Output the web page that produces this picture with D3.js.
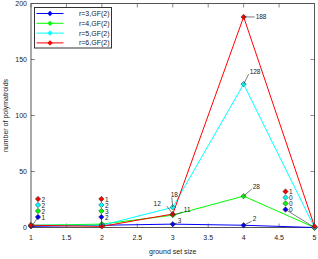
<!DOCTYPE html>
<html>
<head>
<meta charset="utf-8">
<script src="https://cdn.jsdelivr.net/npm/d3@7"></script>
<style>
  body { margin: 0; background: #fff; }
  text { font-family: "Liberation Sans", Arial, sans-serif; }
</style>
</head>
<body>
<div id="chart"></div>
<script>
// data
var sizes = [1, 2, 3, 4, 5];
var seriesNames = ["r=3,GF(2)", "r=4,GF(2)", "r=5,GF(2)", "r=6,GF(2)"];
var seriesColors = ["#0000ff", "#00ff00", "#00ffff", "#ff0000"];
var r3 = [1, 2, 3, 2, 0];
var r4 = [2, 3, 11, 28, 0];
var r5 = [2, 2, 18, 128, 0];
var r6 = [2, 1, 12, 188, 1];
var xTicks = [1, 1.5, 2, 2.5, 3, 3.5, 4, 4.5, 5];
var yTicks = [0, 50, 100, 150, 200];

var width = 318, height = 259;
var margin = ({top: 3.5, right: 3.5, bottom: 31.5, left: 31});

var series = [r3, r4, r5, r6].map((vals, i) => ({
  name: seriesNames[i],
  color: seriesColors[i],
  values: vals.map((v, j) => ({x: sizes[j], y: v}))
}));

var svg = d3.select("#chart")
  .append("svg")
  .attr("width", width)
  .attr("height", height);

var x = d3.scaleLinear()
  .domain([1, 5])
  .range([margin.left, width - margin.right]);
var y = d3.scaleLinear()
  .domain([0, 200])
  .range([height - margin.bottom, margin.top]);

var tickColor = "#888";
var fs = 7;

// ticks on all four sides, pointing inward
var gx = svg.append("g");
xTicks.forEach(t => {
  gx.append("line").attr("x1", x(t)).attr("x2", x(t))
    .attr("y1", y(0)).attr("y2", y(0) - 4).attr("stroke", tickColor);
  gx.append("line").attr("x1", x(t)).attr("x2", x(t))
    .attr("y1", y(200)).attr("y2", y(200) + 4).attr("stroke", tickColor);
  gx.append("text").attr("x", x(t)).attr("y", y(0) + 12)
    .attr("text-anchor", "middle").attr("font-size", fs).attr("fill", "#222")
    .text(t);
});
var gy = svg.append("g");
yTicks.forEach(t => {
  gy.append("line").attr("x1", x(1)).attr("x2", x(1) + 4)
    .attr("y1", y(t)).attr("y2", y(t)).attr("stroke", tickColor);
  gy.append("line").attr("x1", x(5)).attr("x2", x(5) - 4)
    .attr("y1", y(t)).attr("y2", y(t)).attr("stroke", tickColor);
  gy.append("text").attr("x", x(1) - 4).attr("y", y(t) + 2.5)
    .attr("text-anchor", "end").attr("font-size", fs).attr("fill", "#222")
    .text(t);
});

// frame
svg.append("rect")
  .attr("x", x(1)).attr("y", y(200))
  .attr("width", x(5) - x(1)).attr("height", y(0) - y(200))
  .attr("fill", "none").attr("stroke", "#555").attr("stroke-width", 1);

// axis titles
svg.append("text")
  .attr("x", (x(1) + x(5)) / 2).attr("y", height - 5)
  .attr("text-anchor", "middle").attr("font-size", fs).attr("fill", "#222")
  .text("ground set size");
svg.append("text")
  .attr("transform", `translate(8,${(y(0) + y(200)) / 2}) rotate(-90)`)
  .attr("text-anchor", "middle").attr("font-size", fs).attr("fill", "#222")
  .text("number of polymatroids");

var line = d3.line().x(d => x(d.x)).y(d => y(d.y));
var diamond = d3.symbol().type(d3.symbolDiamond2).size(18);

var plot = svg.append("g");
series.forEach(s => {
  plot.append("path")
    .datum(s.values)
    .attr("fill", "none")
    .attr("stroke", s.color)
    .attr("stroke-width", 1)
    .attr("d", line);
});
series.forEach(s => {
  plot.selectAll(null)
    .data(s.values)
    .join("path")
      .attr("transform", d => `translate(${x(d.x)},${y(d.y)})`)
      .attr("d", diamond)
      .attr("fill", s.color)
      .attr("stroke", "#222")
      .attr("stroke-width", 0.5);
});

// single value labels: [series index, point index, dx, dy of text]
var labels = [
  [3, 3, 12, 0],
  [2, 3, 6, -12],
  [1, 3, 9, -9],
  [0, 3, 9, -6],
  [2, 2, -2, -12],
  [3, 2, -12, -10],
  [1, 2, 11, -5],
  [0, 2, 5, -3]
];
var ann = svg.append("g");
labels.forEach(([si, pi, dx, dy]) => {
  var d = series[si].values[pi];
  var px = x(d.x), py = y(d.y);
  var tx = px + dx, ty = py + dy;
  ann.append("line")
    .attr("x1", px).attr("y1", py)
    .attr("x2", tx + (dx > 0 ? -1 : dx < -5 ? 6 : 1)).attr("y2", ty + (dy < 0 ? 2 : 0))
    .attr("stroke", "#222").attr("stroke-width", 0.6);
  ann.append("text")
    .attr("x", tx).attr("y", ty + 2)
    .attr("text-anchor", dx < -5 ? "end" : "start")
    .attr("font-size", 6.5).attr("fill", "#222")
    .text(d.y);
});

// stacked labels where points overlap: [point index, x offset, y of top entry]
var stacks = [[0, 7, 199], [1, -0.5, 199], [4, -29, 191.5]];
stacks.forEach(([pi, ox, top]) => {
  var px = x(sizes[pi]), py = y(0);
  var order = [3, 2, 1, 0];
  var sx = px + ox;
  ann.append("line")
    .attr("x1", sx).attr("y1", top + 18)
    .attr("x2", px).attr("y2", py)
    .attr("stroke", "#222").attr("stroke-width", 0.6);
  order.forEach((si, k) => {
    var yy = top + k * 6;
    ann.append("path")
      .attr("transform", `translate(${sx},${yy})`)
      .attr("d", diamond)
      .attr("fill", series[si].color)
      .attr("stroke", "#222").attr("stroke-width", 0.5);
    ann.append("text")
      .attr("x", sx + 3.5).attr("y", yy + 2.5)
      .attr("font-size", 6.5).attr("fill", "#222")
      .text(series[si].values[pi].y);
  });
});

// legend
var lg = svg.append("g").attr("transform", "translate(34.5,7.5)");
lg.append("rect")
  .attr("width", 77).attr("height", 40.5)
  .attr("fill", "#fff").attr("stroke", "#333").attr("stroke-width", 1);
series.forEach((s, i) => {
  var yy = 6 + i * 9.8;
  lg.append("line").attr("x1", 2).attr("x2", 29).attr("y1", yy).attr("y2", yy)
    .attr("stroke", s.color).attr("stroke-width", 1);
  lg.append("path").attr("transform", `translate(15.5,${yy})`)
    .attr("d", diamond).attr("fill", s.color).attr("stroke", "none");
  lg.append("text").attr("x", 75).attr("y", yy + 2.5)
    .attr("text-anchor", "end").attr("font-size", fs).attr("fill", "#222")
    .text(s.name);
});
</script>
</body>
</html>
